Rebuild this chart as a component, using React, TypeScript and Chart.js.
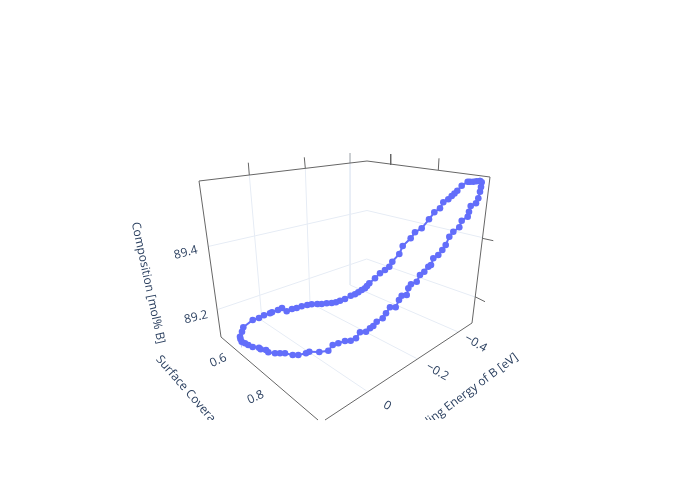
import React, { useEffect, useRef } from "react";
import { Chart, registerables } from "chart.js";

Chart.register(...registerables);

// Loop, as projected (screen-plane) coordinates.
const loopX = [480,476.5,473.3,470,467.7,461.7,457.3,454.5,451.7,448.3,443.3,440,434.3,429,421.7,415,410.7,402.7,399.3,392.3,389.3,385,380,375,369.3,367,365,361.7,358.3,355,350.7,345,340,336,331.7,326.7,321.7,317.3,311.7,307.3,301.7,296.7,292,286.7,282,278,272,270,264,259,252.7,243.3,242,240,240.5,241.7,245,248.3,252.7,259,260.7,266,268.3,275,280,285,292.7,298.3,306,309.3,319.3,328.3,332.7,338.3,345,350.7,356,360,366,370,373.3,376.7,382.7,386,390,395.7,399,401.7,406.7,408.3,411,416.7,420,424.3,428.3,431,433.3,438.3,442.3,445.7,449.3,453.3,459.3,461.7,467.7,469,470.7,476,478.3,480,481,481.7,480];
const loopY = [181,181.3,181.7,181.7,181.7,185.7,190.7,193.5,196,199.3,202.3,208.3,212.3,219.3,228.3,232.3,238.3,246,254,261.7,266.7,270,273.3,278.3,283.3,286,288.3,290,292.3,294.3,295.7,299,300.7,302.3,303,303.3,304,304,304.3,305,306.3,308,309,311.3,308,310,312.3,313.3,315.3,318,320,327.3,331.7,336.7,339,341.7,343.3,345,347,347.7,349.3,350,352.3,353.3,353.3,353.3,355,355,353.3,351.7,352,350.7,345,343.3,341,340.7,338.3,332.3,331.7,328.3,326,321.7,318.3,313.3,307.3,307.3,300,295.7,295,288.3,284.3,281.7,275,271.7,266.7,265,258.3,255,250,245,236.7,231.7,227.3,220.7,216.7,211.7,206,203.3,198.3,191.7,187,182.3,181];

// Box frame, ticks and grid lines, as [x0, y0, x1, y1] in the same plane.
const frameSegments = [
  [199, 181, 367, 161], [367, 161, 490, 177],
  [199, 181, 221, 337], [490, 177, 472, 323],
  [221, 337, 318, 420], [472, 323, 325, 420],
];
const tickSegments = [
  [248.3, 162.7, 249.3, 175], [304.3, 157.3, 305.3, 168.3],
  [390.7, 154, 390.7, 165], [439, 158.3, 438.3, 170],
  [482.3, 238.3, 493.3, 240.7], [475, 296.7, 485, 301.7],
];
const softTickSegments = [[350, 153, 350, 163]];
const gridSegments = [
  [208, 246.5, 367, 210.5], [367, 210.5, 482, 237.5],
  [218.3, 309.3, 366.7, 259], [366.7, 259, 475, 297],
  [249.3, 175, 262, 320.5], [305.3, 168.3, 310, 303], [350, 163, 350, 285],
  [262, 320.5, 366.7, 391], [310, 303, 416.7, 358.5], [350, 285, 458.3, 332],
];

const zLabels = ["89.4", "89.2"];
const zLabelX = [185.7, 196];
const zLabelY = [252.7, 317.3];
const yLabels = ["0.6", "0.8"];
const yLabelX = [218.3, 255.7];
const yLabelY = [360.5, 397.3];
const xLabels = ["\u22120.4", "\u22120.2", "0"];
const xLabelX = [475.7, 437.3, 387.3];
const xLabelY = [343.3, 371.7, 405.7];
const titles = ["Composition [mol% B]", "Surface Coverage", "Binding Energy of B [eV]"];
const titleX = [148, 190, 463];
const titleY = [283, 394, 396];
const titleAngle = [78, 49, -36.7];

const INK = "#2a3f5f";

function segDataset(segs: number[][], color: string) {
  return segs.map((s) => ({
    type: "scatter" as const,
    data: [{ x: s[0], y: s[1] }, { x: s[2], y: s[3] }],
    showLine: true,
    borderColor: color,
    borderWidth: 1,
    pointRadius: 0,
    order: 2,
  }));
}

const labelPlugin = {
  id: "labels3d",
  afterDatasetsDraw(chart: any) {
    const { ctx, scales } = chart;
    const put = (text: string, x: number, y: number, deg: number) => {
      ctx.save();
      ctx.translate(scales.x.getPixelForValue(x), scales.y.getPixelForValue(y));
      ctx.rotate((deg * Math.PI) / 180);
      ctx.fillText(text, 0, 0);
      ctx.restore();
    };
    ctx.save();
    ctx.beginPath();
    ctx.rect(80, 100, 540, 320);
    ctx.clip();
    ctx.font = '12px "Open Sans"';
    ctx.fillStyle = INK;
    ctx.textAlign = "center";
    ctx.textBaseline = "middle";
    zLabels.forEach((t, i) => put(t, zLabelX[i], zLabelY[i], -14));
    yLabels.forEach((t, i) => put(t, yLabelX[i], yLabelY[i], -25));
    xLabels.forEach((t, i) => put(t, xLabelX[i], xLabelY[i], 30));
    titles.forEach((t, i) => put(t, titleX[i], titleY[i], titleAngle[i]));
    ctx.restore();
  },
};

export default function App() {
  const ref = useRef<HTMLCanvasElement>(null);
  useEffect(() => {
    const chart = new Chart(ref.current as HTMLCanvasElement, {
      type: "scatter",
      data: {
        datasets: [
          {
            data: loopX.map((x, i) => ({ x, y: loopY[i] })),
            showLine: true,
            borderColor: "#636efa",
            backgroundColor: "#636efa",
            borderWidth: 2,
            pointRadius: 3.3,
            pointBorderWidth: 0,
            order: 0,
          },
          ...segDataset(frameSegments, "#666666"),
          ...segDataset(tickSegments, "#666666"),
          ...segDataset(softTickSegments, "#c4c8cc"),
          ...segDataset(gridSegments, "#e6ecf5"),
        ] as any,
      },
      options: {
        responsive: false,
        animation: false,
        layout: { padding: 0, autoPadding: false },
        plugins: { legend: { display: false }, tooltip: { enabled: false } },
        scales: {
          x: { display: false, min: 0, max: 700 },
          y: { display: false, min: 0, max: 500, reverse: true },
        },
      },
      plugins: [labelPlugin],
    });
    return () => chart.destroy();
  }, []);
  return (
    <div style={{ position: "absolute", left: 0, top: 0, width: 700, height: 500, background: "#fff" }}>
      <canvas ref={ref} width={700} height={500} style={{ display: "block" }} />
    </div>
  );
}
